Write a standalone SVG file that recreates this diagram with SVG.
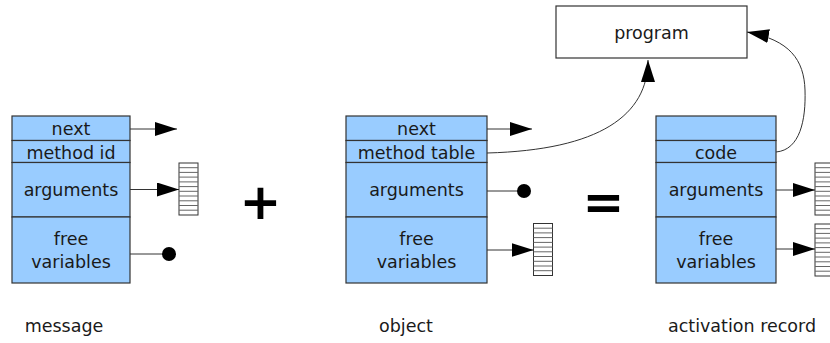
<svg xmlns="http://www.w3.org/2000/svg" xmlns:xlink="http://www.w3.org/1999/xlink" width="830" height="343" viewBox="0 0 830 343">
  <style>
    .cell { fill: #99ccff; stroke: #333333; stroke-width: 1.2; }
    .box { fill: #ffffff; stroke: #333333; stroke-width: 1.2; }
    .lbl { font-family: "DejaVu Sans", "Liberation Sans", sans-serif; font-size: 17.5px; fill: #1a1a1a; text-anchor: middle; }
    .op { font-family: "DejaVu Sans", "Liberation Sans", sans-serif; font-weight: bold; font-size: 50px; fill: #000000; text-anchor: middle; }
    .wire { fill: none; stroke: #333333; stroke-width: 1; }
    .arrow { fill: none; stroke: #333333; stroke-width: 1; marker-end: url(#head); }
    .dot { fill: #000000; }
    .stub rect { fill: #ffffff; stroke: #333333; stroke-width: 1; }
    .stub line { stroke: #666666; stroke-width: 1; }
  </style>
  <defs>
    <marker id="head" viewBox="0 0 22 14" refX="22" refY="7" markerWidth="22" markerHeight="14" markerUnits="userSpaceOnUse" orient="auto">
      <path d="M0,0 L22,7 L0,14 Z" fill="#000000"/>
    </marker>
    <!-- striped array stub, 19 x 52 -->
    <g id="array" class="stub">
      <rect x="0" y="0" width="19" height="52"/>
      <line x1="0" y1="4.7" x2="19" y2="4.7"/>
      <line x1="0" y1="9.4" x2="19" y2="9.4"/>
      <line x1="0" y1="14.1" x2="19" y2="14.1"/>
      <line x1="0" y1="18.9" x2="19" y2="18.9"/>
      <line x1="0" y1="23.6" x2="19" y2="23.6"/>
      <line x1="0" y1="28.3" x2="19" y2="28.3"/>
      <line x1="0" y1="33" x2="19" y2="33"/>
      <line x1="0" y1="37.8" x2="19" y2="37.8"/>
      <line x1="0" y1="42.5" x2="19" y2="42.5"/>
      <line x1="0" y1="47.2" x2="19" y2="47.2"/>
    </g>
  </defs>

  <rect width="830" height="343" fill="#ffffff"/>

  <!-- message record -->
  <g id="message">
    <rect class="cell" x="12" y="116" width="118" height="24.5"/>
    <rect class="cell" x="12" y="140.5" width="118" height="22"/>
    <rect class="cell" x="12" y="162.5" width="118" height="54.5"/>
    <rect class="cell" x="12" y="217" width="118" height="66"/>
    <text class="lbl" x="71" y="135">next</text>
    <text class="lbl" x="71" y="158.5">method id</text>
    <text class="lbl" x="71" y="196">arguments</text>
    <text class="lbl" x="71" y="245">free</text>
    <text class="lbl" x="71" y="267.5">variables</text>
    <text class="lbl" x="64" y="332">message</text>
  </g>

  <!-- object record -->
  <g id="object">
    <rect class="cell" x="346" y="116" width="141" height="24.5"/>
    <rect class="cell" x="346" y="140.5" width="141" height="22"/>
    <rect class="cell" x="346" y="162.5" width="141" height="54.5"/>
    <rect class="cell" x="346" y="217" width="141" height="66"/>
    <text class="lbl" x="416.5" y="135">next</text>
    <text class="lbl" x="416.5" y="158.5">method table</text>
    <text class="lbl" x="416.5" y="196">arguments</text>
    <text class="lbl" x="416.5" y="245">free</text>
    <text class="lbl" x="416.5" y="267.5">variables</text>
    <text class="lbl" x="406" y="332">object</text>
  </g>

  <!-- activation record -->
  <g id="activation">
    <rect class="cell" x="656" y="116" width="120" height="24.5"/>
    <rect class="cell" x="656" y="140.5" width="120" height="22"/>
    <rect class="cell" x="656" y="162.5" width="120" height="54.5"/>
    <rect class="cell" x="656" y="217" width="120" height="66"/>
    <text class="lbl" x="716" y="158.5">code</text>
    <text class="lbl" x="716" y="196">arguments</text>
    <text class="lbl" x="716" y="245">free</text>
    <text class="lbl" x="716" y="267.5">variables</text>
    <text class="lbl" x="742" y="332">activation record</text>
  </g>

  <!-- program box -->
  <g id="program">
    <rect class="box" x="556" y="6" width="191" height="52"/>
    <text class="lbl" x="651.5" y="38.5">program</text>
  </g>

  <!-- operators -->
  <g id="plus">
    <text class="op" x="260.5" y="219">+</text>
  </g>
  <g id="equals">
    <text class="op" x="603.5" y="219">=</text>
  </g>

  <!-- array stubs -->
  <g id="arrays">
    <use xlink:href="#array" x="179" y="163"/>
    <use xlink:href="#array" x="533.5" y="223.5"/>
    <use xlink:href="#array" x="815" y="163"/>
    <use xlink:href="#array" x="815" y="224"/>
  </g>

  <!-- connectors -->
  <g id="connectors">
    <!-- message -->
    <line class="arrow" x1="130" y1="129" x2="177" y2="129"/>
    <line class="arrow" x1="130" y1="189.5" x2="179" y2="189.5"/>
    <line class="wire" x1="130" y1="254" x2="163" y2="254"/>
    <circle class="dot" cx="169" cy="254" r="7"/>
    <!-- object -->
    <line class="arrow" x1="487" y1="129" x2="532" y2="129"/>
    <path class="arrow" d="M487,153 C600,150 648,115 648,60"/>
    <line class="wire" x1="487" y1="191" x2="518" y2="191"/>
    <circle class="dot" cx="524" cy="191" r="7"/>
    <line class="arrow" x1="487" y1="250" x2="533.5" y2="250"/>
    <!-- activation record -->
    <path class="arrow" d="M776,152 C800,150 806,120 805,90 C804,60 790,40 747,32"/>
    <line class="arrow" x1="776" y1="190" x2="815" y2="190"/>
    <line class="arrow" x1="776" y1="249" x2="815" y2="249"/>
  </g>
</svg>
